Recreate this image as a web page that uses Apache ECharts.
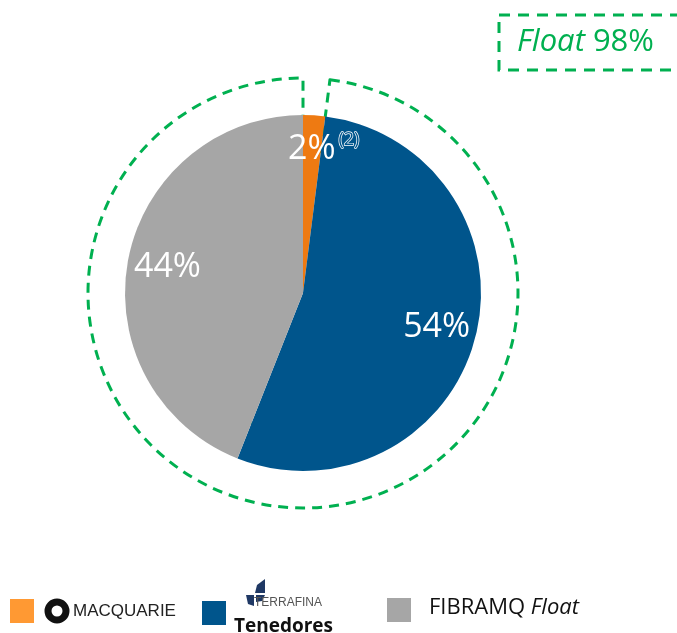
<!DOCTYPE html>
<html>
<head>
<meta charset="utf-8">
<script src="https://cdn.jsdelivr.net/npm/echarts@6/dist/echarts.min.js"></script>
<style>
  html, body { margin: 0; padding: 0; background: #fff; }
  #main { width: 677px; height: 633px; }
</style>
</head>
<body>
<div id="main"></div>
<script>
// datos de la tenencia
var names = ["Macquarie", "Tenedores", "FIBRAMQ Float"];
var values = [2, 54, 44];
var labels = ["2%", "54%", "44%"];
var floatValues = [2, 98];

var colors = ["#EE7A12", "#00558C", "#A6A6A6"];
var green = "#00B050";
var font = "'Open Sans', 'Noto Sans', sans-serif";

var chart = echarts.init(document.getElementById("main"));

var pieData = names.map(function (n, i) {
  return { name: n, value: values[i], itemStyle: { color: colors[i] } };
});

var labelData = names.map(function (n, i) {
  var item = { name: n, value: values[i] };
  if (i === 0) {
    item.label = {
      formatter: labels[i] + "{sup|(2)}",
      offset: [12, -6]
    };
  } else {
    item.label = { formatter: labels[i] };
  }
  return item;
});

chart.setOption({
  animation: false,
  series: [
    {
      // contorno punteado del float
      type: "pie",
      z: 1,
      silent: true,
      center: [303, 293],
      radius: [140, 215],
      startAngle: 90,
      label: { show: false },
      labelLine: { show: false },
      emphasis: { disabled: true },
      data: [
        { value: floatValues[0], itemStyle: { color: "rgba(0,0,0,0)", borderWidth: 0 } },
        {
          value: floatValues[1],
          itemStyle: {
            color: "rgba(0,0,0,0)",
            borderColor: green,
            borderWidth: 3,
            borderType: [10, 7]
          }
        }
      ]
    },
    {
      type: "pie",
      z: 2,
      silent: true,
      center: [303, 293],
      radius: [0, 178],
      startAngle: 90,
      label: { show: false },
      labelLine: { show: false },
      emphasis: { disabled: true },
      itemStyle: { borderWidth: 0 },
      data: pieData
    },
    {
      // solo etiquetas
      type: "pie",
      z: 3,
      silent: true,
      center: [303, 293],
      radius: [0, 270],
      startAngle: 90,
      itemStyle: { color: "rgba(0,0,0,0)" },
      emphasis: { disabled: true },
      labelLine: { show: false },
      label: {
        show: true,
        position: "inside",
        color: "#fff",
        fontSize: 34,
        fontFamily: font,
        rich: {
          sup: {
            fontSize: 18,
            color: "#00558C",
            textBorderColor: "#fff",
            textBorderWidth: 1.4,
            fontFamily: font,
            verticalAlign: "top",
            padding: [0, 0, 18, 3]
          }
        }
      },
      data: labelData
    }
  ],
  graphic: [
    {
      type: "rect",
      shape: { x: 499, y: 15, width: 220, height: 55 },
      style: { fill: "none", stroke: green, lineWidth: 3, lineDash: [11, 8] }
    },
    {
      type: "text",
      x: 517, y: 42,
      style: {
        text: "{i|Float} 98%",
        fill: green,
        fontSize: 31,
        fontFamily: font,
        verticalAlign: "middle",
        rich: { i: { fontStyle: "italic", fontSize: 31, fill: green, fontFamily: font } }
      }
    },
    // leyenda
    { type: "rect", shape: { x: 10, y: 599, width: 24, height: 24 }, style: { fill: "#FF9933" } },
    {
      type: "ring",
      shape: { cx: 57, cy: 611, r: 12.5, r0: 5.5 },
      style: { fill: "#111" }
    },
    {
      type: "text",
      x: 73, y: 611,
      style: { text: "MACQUARIE", fill: "#222", fontSize: 17, fontFamily: "'Liberation Sans', sans-serif", verticalAlign: "middle" }
    },
    { type: "rect", shape: { x: 202, y: 601, width: 24, height: 24 }, style: { fill: "#00558C" } },
    {
      type: "polygon",
      shape: { points: [[255, 593], [257, 585], [265, 579], [265, 593]] },
      style: { fill: "#1F3864" }
    },
    {
      type: "polygon",
      shape: { points: [[246, 595], [254, 595], [254, 606], [248, 604]] },
      style: { fill: "#1F3864" }
    },
    {
      type: "polygon",
      shape: { points: [[256, 595], [265, 595], [262, 601], [256, 602]] },
      style: { fill: "#1F3864" }
    },
    {
      type: "text",
      x: 254, y: 603,
      style: { text: "TERRAFINA", fill: "#555", fontSize: 12, fontFamily: "'Liberation Sans', sans-serif", verticalAlign: "middle" }
    },
    {
      type: "text",
      x: 234, y: 627,
      style: { text: "Tenedores", fill: "#111", fontSize: 19, fontWeight: "bold", fontFamily: font, verticalAlign: "middle" }
    },
    { type: "rect", shape: { x: 387, y: 598, width: 24, height: 24 }, style: { fill: "#A6A6A6" } },
    {
      type: "text",
      x: 429, y: 608,
      style: {
        text: "FIBRAMQ {i|Float}",
        fill: "#111",
        fontSize: 22,
        fontFamily: font,
        verticalAlign: "middle",
        rich: { i: { fontStyle: "italic", fontSize: 22, fill: "#111", fontFamily: font } }
      }
    }
  ]
});
</script>
</body>
</html>
